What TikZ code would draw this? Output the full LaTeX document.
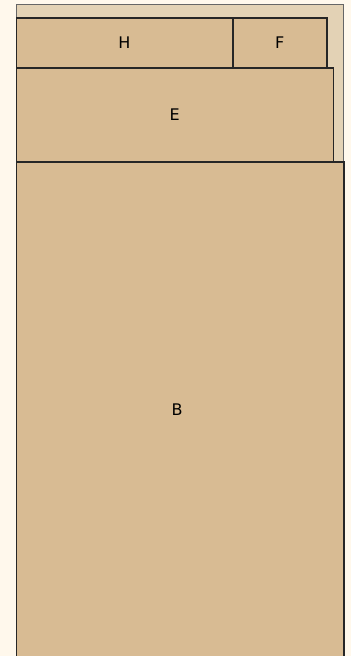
\documentclass[tikz,border=0pt]{standalone}
\usepackage{fontspec}
\setmainfont{DejaVu Sans}
\definecolor{bgc}{HTML}{FFF8EC}
\definecolor{outerc}{HTML}{E3D2B5}
\definecolor{boxc}{HTML}{D8BB93}
\begin{document}
\begin{tikzpicture}[x=1pt,y=-1pt,
  box/.style={draw=black!85, line width=1.5pt, fill=boxc, anchor=north west, inner sep=0pt, font=\fontsize{16}{18}\selectfont},
  container/.style={draw=black!60, line width=1.3pt, fill=outerc, anchor=north west, inner sep=0pt}]
\useasboundingbox (0,0) rectangle (351,656);
\clip (0,0) rectangle (351,656);
\fill[bgc] (0,0) rectangle (351,656);
\node[container, minimum width=327.5pt, minimum height=680pt] (outer) at (15.5,3.5) {};
\node[box, minimum width=216.5pt, minimum height=50pt] (H) at (15.5,17) {H};
\node[box, minimum width=94pt, minimum height=50pt] (F) at (232,17) {F};
\node[box, minimum width=317pt, minimum height=94pt] (E) at (15.5,67) {E};
\node[box, minimum width=327.5pt, minimum height=500pt] (B) at (15.5,161) {};
\node[font=\fontsize{16}{18}\selectfont] (Bl) at (177,410) {B};
\end{tikzpicture}
\end{document}
